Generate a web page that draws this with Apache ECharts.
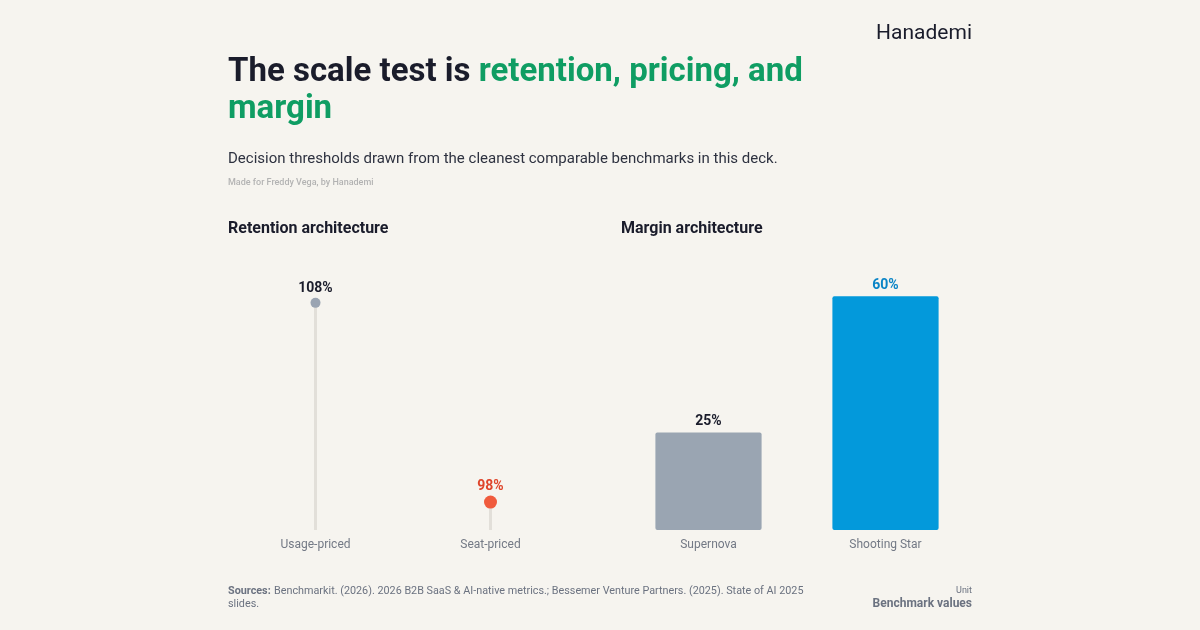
<!DOCTYPE html>
<html>
<head>
<meta charset="utf-8">
<script src="https://cdn.jsdelivr.net/npm/echarts@6/dist/echarts.min.js"></script>
<style>
html,body{margin:0;padding:0;background:#f6f4ef;}
#c{width:1200px;height:630px;}
</style>
</head>
<body>
<div id="c"></div>
<script>
// ---- data ----
const retentionCategories = ['Usage-priced', 'Seat-priced'];
const retentionValues = [108, 98];
const marginCategories = ['Supernova', 'Shooting Star'];
const marginValues = [25, 60];

const FONT = 'Roboto, "Noto Sans", sans-serif';
const DARK = '#1a1c2b';
const GREEN = '#0f9d63';
const GRAYTXT = '#737985';

const retentionDot = [
  { color: '#9aa4b2', size: 10, label: DARK },
  { color: '#f05b3d', size: 13, label: '#df452b' }
];
const marginStyle = [
  { color: '#9aa5b2', label: DARK },
  { color: '#0399db', label: '#0a84c6' }
];

const chart = echarts.init(document.getElementById('c'));
const option = {
  backgroundColor: '#f6f4ef',
  textStyle: { fontFamily: FONT },
  grid: [
    { left: 228, width: 350, top: 263, bottom: 100 },
    { left: 620, width: 354, top: 263, bottom: 100 }
  ],
  xAxis: [
    { type: 'category', gridIndex: 0, data: retentionCategories,
      axisLine: { show: false }, axisTick: { show: false },
      axisLabel: { color: GRAYTXT, fontSize: 12, margin: 9, fontFamily: FONT } },
    { type: 'category', gridIndex: 1, data: marginCategories,
      axisLine: { show: false }, axisTick: { show: false },
      axisLabel: { color: GRAYTXT, fontSize: 12, margin: 9, fontFamily: FONT } }
  ],
  yAxis: [
    { type: 'value', gridIndex: 0, min: 96.6, max: 110, show: false, splitLine: { show: false } },
    { type: 'value', gridIndex: 1, min: 0, max: 68.5, show: false, splitLine: { show: false } }
  ],
  series: [
    { type: 'bar', xAxisIndex: 0, yAxisIndex: 0, data: retentionValues,
      barWidth: 3, clip: true, silent: true,
      itemStyle: { color: '#e2dfd9' } },
    { type: 'scatter', xAxisIndex: 0, yAxisIndex: 0,
      itemStyle: { opacity: 1 },
      data: retentionValues.map((v, i) => ({
        value: v, symbolSize: retentionDot[i].size,
        itemStyle: { color: retentionDot[i].color, opacity: 1 },
        label: { color: retentionDot[i].label }
      })),
      label: { show: true, position: 'top', distance: 2, formatter: p => p.value + '%',
        fontSize: 14, fontWeight: 'bold', fontFamily: FONT } },
    { type: 'bar', xAxisIndex: 1, yAxisIndex: 1, barWidth: '60%',
      data: marginValues.map((v, i) => ({
        value: v, itemStyle: { color: marginStyle[i].color, borderRadius: 2 },
        label: { color: marginStyle[i].label }
      })),
      label: { show: true, position: 'top', distance: 4, formatter: p => p.value + '%',
        fontSize: 14, fontWeight: 'bold', fontFamily: FONT } }
  ],
  graphic: [
    { type: 'text', right: 228, top: 23,
      style: { text: 'Hanademi', font: '400 21px ' + FONT, fill: DARK } },
    { type: 'text', left: 228, top: 56,
      style: {
        text: '{d|The scale test is }{g|retention, pricing, and}\n{g|margin}',
        rich: {
          d: { font: 'bold 33px ' + FONT, fill: DARK, lineHeight: 37 },
          g: { font: 'bold 33px ' + FONT, fill: GREEN, lineHeight: 37 }
        }
      } },
    { type: 'text', left: 228, top: 152,
      style: { text: 'Decision thresholds drawn from the cleanest comparable benchmarks in this deck.',
        font: '15px ' + FONT, fill: '#2e3240' } },
    { type: 'text', left: 228, top: 178,
      style: { text: 'Made for Freddy Vega, by Hanademi', font: '500 9px ' + FONT, fill: '#b3b3b3' } },
    { type: 'text', left: 228, top: 221,
      style: { text: 'Retention architecture', font: 'bold 16px ' + FONT, fill: DARK } },
    { type: 'text', left: 621, top: 221,
      style: { text: 'Margin architecture', font: 'bold 16px ' + FONT, fill: DARK } },
    { type: 'text', left: 228, top: 585,
      style: {
        text: '{b|Sources:} {n|Benchmarkit. (2026). 2026 B2B SaaS & AI-native metrics.; Bessemer Venture Partners. (2025). State of AI 2025}\n{n|slides.}',
        rich: {
          b: { font: 'bold 10.8px ' + FONT, fill: '#6b7280', lineHeight: 13 },
          n: { font: '10.8px ' + FONT, fill: '#6b7280', lineHeight: 13 }
        }
      } },
    { type: 'text', right: 228, top: 586,
      style: { text: 'Unit', font: '9px ' + FONT, fill: '#6b7280', align: 'right' } },
    { type: 'text', right: 228, top: 598,
      style: { text: 'Benchmark values', font: 'bold 12px ' + FONT, fill: '#6b7280', align: 'right' } }
  ]
};
chart.setOption(option);
</script>
</body>
</html>
